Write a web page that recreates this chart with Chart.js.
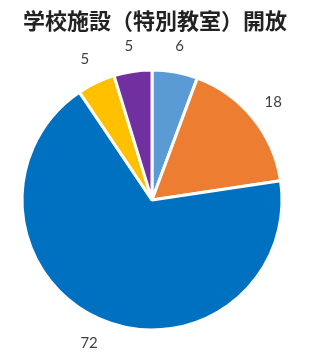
<!DOCTYPE html>
<html>
<head>
<meta charset="utf-8">
<script src="https://cdn.jsdelivr.net/npm/chart.js@4.4.1/dist/chart.umd.min.js"></script>
<style>
  html, body { margin: 0; padding: 0; background: #fff; }
  #wrap { width: 317px; height: 359px; position: relative; }
</style>
</head>
<body>
<div id="wrap"><canvas id="chart" width="317" height="359"></canvas></div>
<script>
// Chart data
const chartTitle = '学校施設（特別教室）開放';
const categories = ['A', 'B', 'C', 'D', 'E'];
const values = [6, 18, 72, 5, 5];
const sliceColors = ['#5B9BD5', '#ED7D31', '#0070C0', '#FFC000', '#7030A0'];

// Title and outside value labels
const labelPlugin = {
    id: 'pieLabels',
    afterDraw(chart) {
        const ctx = chart.ctx;
        ctx.save();
        ctx.fillStyle = '#222222';
        ctx.font = 'bold 22px "Noto Sans CJK JP"';
        ctx.textAlign = 'center';
        ctx.textBaseline = 'middle';
        ctx.fillText(chartTitle, 155, 21);

        ctx.fillStyle = '#404040';
        ctx.font = '15px Lato';
        const meta = chart.getDatasetMeta(0);
        meta.data.forEach((arc, i) => {
            const mid = (arc.startAngle + arc.endAngle) / 2;
            const r = arc.outerRadius + 26;
            const x = arc.x + Math.cos(mid) * r;
            const y = arc.y + Math.sin(mid) * r;
            ctx.fillText(String(values[i]), x, y);
        });
        ctx.restore();
    }
};

new Chart(document.getElementById('chart'), {
    type: 'pie',
    data: {
        labels: categories,
        datasets: [{
            data: values,
            backgroundColor: sliceColors,
            borderColor: '#ffffff',
            borderWidth: 3,
            hoverOffset: 0
        }]
    },
    options: {
        responsive: false,
        animation: false,
        radius: 130,
        layout: { padding: { left: 22, right: 35, top: 70, bottom: 29 } },
        plugins: {
            legend: { display: false },
            tooltip: { enabled: false },
            title: { display: false }
        }
    },
    plugins: [labelPlugin]
});
</script>
</body>
</html>
